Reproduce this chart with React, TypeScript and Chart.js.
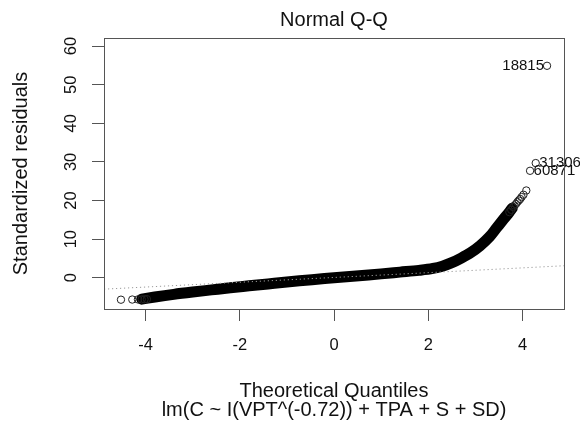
import React, { useEffect, useRef } from 'react';
import { Chart, registerables } from 'chart.js';

Chart.register(...registerables);

// Dense body of the Q-Q band (theoretical quantile, standardized residual)
const curveX = [-4.08, -3.8, -3.4, -3.0, -2.6, -2.2, -1.8, -1.4, -1.0, -0.6, -0.2, 0.2, 0.6, 1.0, 1.4, 1.8, 2.1, 2.3, 2.5, 2.7, 2.9, 3.1, 3.3, 3.45, 3.6, 3.72, 3.78];
const curveY = [-5.55, -5.0, -4.3, -3.7, -3.15, -2.6, -2.1, -1.6, -1.1, -0.65, -0.2, 0.2, 0.6, 1.0, 1.45, 1.9, 2.4, 3.0, 3.9, 5.1, 6.5, 8.3, 10.6, 12.9, 15.2, 17.0, 18.0];

// Individually visible points in the tails
const tailX = [-4.52, -4.28, -4.16, -4.08, -4.02, -3.97, 3.72, 3.76, 3.8, 3.83, 3.86, 3.89, 3.92, 3.95, 3.98, 4.02, 4.08, 4.16, 4.28, 4.52];
const tailY = [-5.69, -5.65, -5.62, -5.6, -5.58, -5.55, 17.0, 17.6, 18.3, 18.7, 19.1, 19.6, 20.0, 20.4, 20.9, 21.5, 22.6, 27.7, 29.7, 54.9];

// Identified observations
const idLabels = ['18815', '31306', '60871'];
const idX = [4.52, 4.28, 4.16];
const idY = [54.9, 29.7, 27.7];
const idSide = ['left', 'right', 'right'];

// Reference line (qqline)
const qqLineX = [-4.88, 4.88];
const qqLineY = [-2.96, 3.1];

const xTicks = [-4, -2, 0, 2, 4];
const yTicks = [0, 10, 20, 30, 40, 50, 60];

const FONT = "'Liberation Sans', Arial, Helvetica, sans-serif";

function alignPx(p: number) {
  return Math.round(p - 0.5) + 0.5;
}

export default function App() {
  const ref = useRef<HTMLCanvasElement>(null);

  useEffect(() => {
    document.body.style.margin = '0';
    const canvas = ref.current!;

    const boxPlugin = {
      id: 'rbox',
      afterDraw(chart: any) {
        const { ctx, chartArea: a } = chart;
        ctx.save();
        ctx.strokeStyle = '#555';
        ctx.lineWidth = 1;
        const l = alignPx(a.left), r = alignPx(a.right), t = alignPx(a.top), b = alignPx(a.bottom);
        ctx.strokeRect(l, t, r - l, b - t);
        ctx.restore();
      },
    };

    const labelPlugin = {
      id: 'idlabels',
      afterDatasetsDraw(chart: any) {
        const { ctx, scales } = chart;
        ctx.save();
        ctx.font = `15px ${FONT}`;
        ctx.fillStyle = '#111';
        ctx.textBaseline = 'middle';
        idLabels.forEach((lab, i) => {
          const px = scales.x.getPixelForValue(idX[i]);
          const py = scales.y.getPixelForValue(idY[i]);
          if (idSide[i] === 'left') {
            ctx.textAlign = 'right';
            ctx.fillText(lab, px - 3, py);
          } else {
            ctx.textAlign = 'left';
            ctx.fillText(lab, px + 3.5, py);
          }
        });
        ctx.restore();
      },
    };

    const chart = new Chart(canvas, {
      type: 'scatter',
      data: {
        datasets: [
          {
            data: qqLineX.map((x, i) => ({ x, y: qqLineY[i] })),
            showLine: true,
            borderColor: '#999',
            borderWidth: 1,
            borderDash: [1.2, 2.8],
            pointRadius: 0,
          },
          {
            data: tailX.map((x, i) => ({ x, y: tailY[i] })),
            showLine: false,
            pointRadius: 3.7,
            pointBorderWidth: 1,
            borderColor: '#222',
            backgroundColor: 'rgba(0,0,0,0)',
          },
          {
            data: curveX.map((x, i) => ({ x, y: curveY[i] })),
            showLine: true,
            borderColor: '#000',
            borderWidth: 11,
            borderCapStyle: 'round',
            borderJoinStyle: 'round',
            cubicInterpolationMode: 'monotone',
            pointRadius: 0,
          },
        ],
      } as any,
      options: {
        animation: false,
        responsive: false,
        devicePixelRatio: 1,
        layout: { padding: { left: 0, right: 16, top: 0, bottom: 0 } },
        plugins: {
          legend: { display: false },
          tooltip: { enabled: false },
          title: {
            display: true,
            text: 'Normal Q-Q',
            fullSize: false,
            color: '#111',
            font: { family: FONT, size: 20, weight: 'normal', lineHeight: 1.2 },
            padding: { top: 8.5, bottom: 5.5 },
          },
        },
        scales: {
          x: {
            type: 'linear',
            bounds: 'data',
            min: -4.88,
            max: 4.88,
            afterBuildTicks: (s: any) => {
              s.ticks = xTicks.map((value) => ({ value }));
            },
            afterFit: (s: any) => {
              s.height = 121;
            },
            grid: { display: true, drawOnChartArea: false, drawTicks: true, tickLength: 12, color: '#555', lineWidth: 1 },
            border: { display: false },
            ticks: {
              autoSkip: false,
              maxRotation: 0,
              padding: 15,
              color: '#111',
              font: { family: FONT, size: 16.5 },
            },
            title: {
              display: true,
              text: ['Theoretical Quantiles', 'lm(C ~ I(VPT^(-0.72)) + TPA + S + SD)'],
              color: '#111',
              font: { family: FONT, size: 20, lineHeight: '19px' },
              padding: { top: 0, bottom: 10 },
            },
          },
          y: {
            type: 'linear',
            bounds: 'data',
            min: -8.1,
            max: 62.1,
            afterBuildTicks: (s: any) => {
              s.ticks = yTicks.map((value) => ({ value }));
            },
            afterFit: (s: any) => {
              s.width = 104;
            },
            grid: { display: true, drawOnChartArea: false, drawTicks: true, tickLength: 12, color: '#555', lineWidth: 1 },
            border: { display: false },
            ticks: {
              autoSkip: false,
              minRotation: 90,
              maxRotation: 90,
              crossAlign: 'center',
              padding: 11.5,
              color: '#111',
              font: { family: FONT, size: 16.5 },
            },
            title: {
              display: true,
              text: 'Standardized residuals',
              color: '#111',
              font: { family: FONT, size: 20, lineHeight: 1.2 },
              padding: { top: 9, bottom: 0 },
            },
          },
        },
      } as any,
      plugins: [boxPlugin, labelPlugin],
    });

    return () => chart.destroy();
  }, []);

  return (
    <div style={{ width: 580, height: 430 }}>
      <canvas ref={ref} width={580} height={430} style={{ display: 'block', width: 580, height: 430 }} />
    </div>
  );
}
